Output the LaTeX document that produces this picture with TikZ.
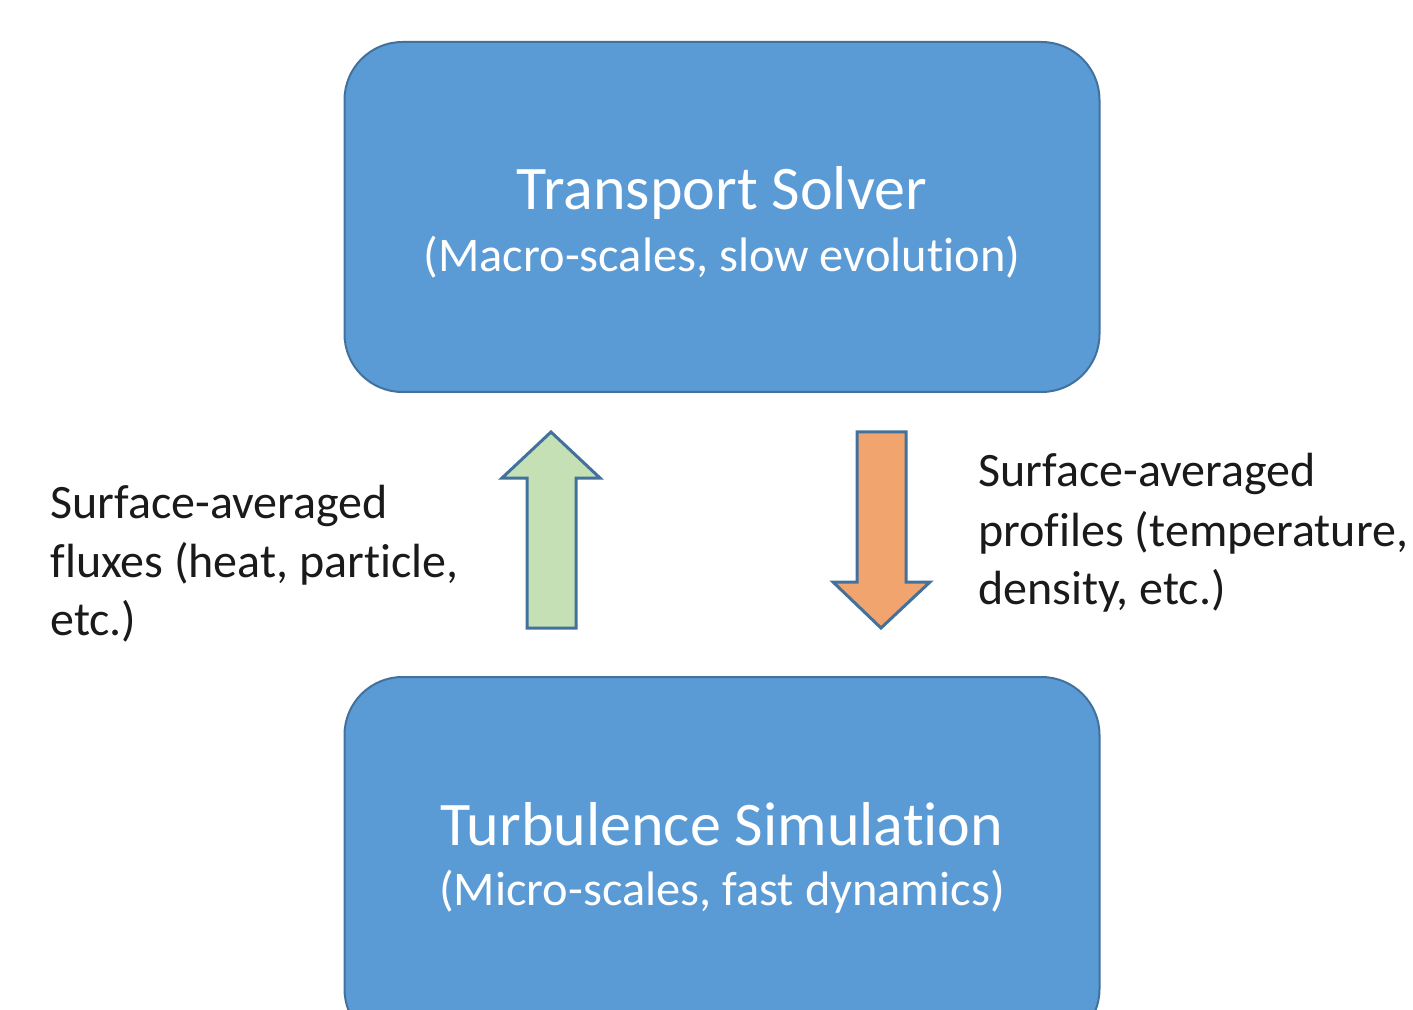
\documentclass[tikz,border=0pt]{standalone}
\usepackage{fontspec}
\setmainfont{Carlito}[Ligatures={NoCommon},RawFeature={-liga;-clig;-dlig;-calt}]
\newcommand{\zk}{\kern0pt}
\definecolor{boxfill}{HTML}{5B9BD5}
\definecolor{boxline}{HTML}{41719C}
\definecolor{greenfill}{HTML}{C5E0B4}
\definecolor{orangefill}{HTML}{F1A46E}
\definecolor{labeltext}{HTML}{1A1A1A}
\begin{document}
\begin{tikzpicture}[x=0.5pt,y=-0.5pt,
  box/.style={draw=boxline, line width=1pt, fill=boxfill, rounded corners=29pt,
    minimum width=377.5pt, minimum height=175pt, inner sep=0pt},
  titletext/.style={text=white, anchor=base, inner sep=0pt, font=\fontsize{31pt}{36pt}\selectfont},
  subtext/.style={text=white, anchor=base, inner sep=0pt, font=\fontsize{24.2pt}{29pt}\selectfont},
  sidetext/.style={text=labeltext, anchor=base west, inner sep=0pt, font=\fontsize{24pt}{29pt}\selectfont},
  blockarrow/.style={draw=boxline, line width=1.5pt, line join=miter}]
\useasboundingbox (0,0) rectangle (1413,1010);
\clip (0,0) rectangle (1413,1010);
% boxes
\node[box] (ts) at (722,217) {};
\node[box, minimum height=185pt] (tb) at (722,862) {};
% box texts
\node[titletext] (tstitle) at (722,210) {Transport Solver};
\node[subtext] (tssub) at (722,272) {(Macro-scales, slow evolut\zk ion)};
\node[titletext] (tbtitle) at (722,845) {Turbulence Simulat\zk ion};
\node[subtext] (tbsub) at (722,905) {(Micro-scales, fast dynamics)};
% block arrows
\draw[blockarrow, fill=greenfill] (527,628) -- (527,478) -- (502,478) -- (551,432) -- (600,478) -- (576,478) -- (576,628) -- cycle;
\draw[blockarrow, fill=orangefill] (857,432) -- (857,582) -- (833,582) -- (881,628) -- (930,582) -- (906,582) -- (906,432) -- cycle;
% side labels
\node[sidetext] (l1) at (50,518) {Surface-averaged};
\node[sidetext] (l2) at (50,577) {f\zk luxes (heat, part\zk icle,};
\node[sidetext] (l3) at (50,635) {etc.)};
\node[sidetext] (r1) at (978,487) {Surface-averaged};
\node[sidetext] (r2) at (978,546) {prof\zk iles (temperature,};
\node[sidetext] (r3) at (978,604) {density, etc.)};
\end{tikzpicture}
\end{document}
